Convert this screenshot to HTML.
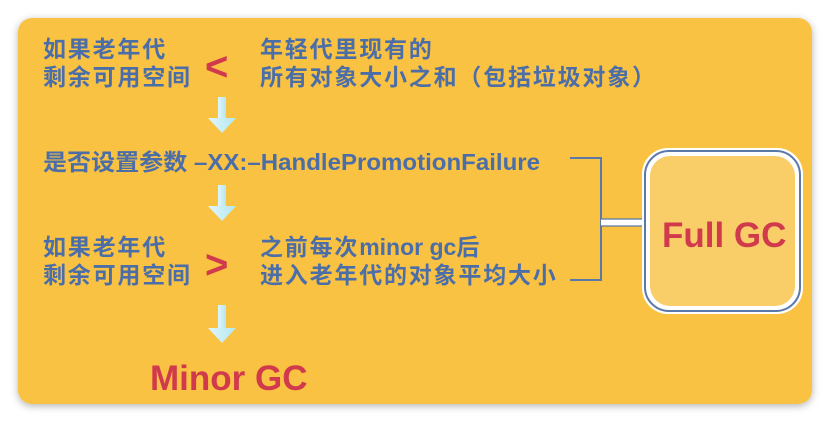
<!DOCTYPE html>
<html><head><meta charset="utf-8"><style>
html,body{margin:0;padding:0;background:#fff;width:830px;height:423px;overflow:hidden}
svg{display:block}
.t{font-family:"Liberation Sans","Noto Sans CJK SC",sans-serif;font-weight:bold;fill:#4C6EA8;font-size:23px;letter-spacing:1.8px}
.r{font-family:"Liberation Sans",sans-serif;font-weight:bold;fill:#D03A4C}
</style></head><body>
<svg width="830" height="423" viewBox="0 0 830 423">
<defs>
<filter id="sh" x="-5%" y="-5%" width="110%" height="115%"><feDropShadow dx="0" dy="2" stdDeviation="4" flood-color="#000" flood-opacity="0.3"/></filter>
<linearGradient id="ag" x1="0" x2="1"><stop offset="0" stop-color="#dff6fb"/><stop offset="1" stop-color="#b5e6f0"/></linearGradient>
</defs>
<rect x="18" y="18" width="794" height="386" rx="14" fill="#F9C242" filter="url(#sh)"/>
<text class="t" x="43" y="57">如果老年代</text>
<text class="t" x="43" y="85">剩余可用空间</text>
<text class="r" x="205" y="80" font-size="40">&lt;</text>
<text class="t" x="260" y="57">年轻代里现有的</text>
<text class="t" x="260" y="85">所有对象大小之和（包括垃圾对象）</text>
<g fill="url(#ag)"><rect x="218" y="97" width="8" height="22"/><polygon points="208,118 236,118 222,133"/></g>
<text class="t" x="43" y="170" textLength="497" lengthAdjust="spacingAndGlyphs" style="letter-spacing:0">是否设置参数 –XX:–HandlePromotionFailure</text>
<g fill="url(#ag)"><rect x="218" y="185" width="8" height="22"/><polygon points="208,206 236,206 222,221"/></g>
<text class="t" x="43" y="255">如果老年代</text>
<text class="t" x="43" y="283">剩余可用空间</text>
<text class="r" x="205" y="278" font-size="40">&gt;</text>
<text class="t" x="260" y="255">之前每次<tspan style="letter-spacing:0">minor gc</tspan>后</text>
<text class="t" x="260" y="283">进入老年代的对象平均大小</text>
<g fill="url(#ag)"><rect x="218" y="305" width="8" height="24"/><polygon points="208,328 236,328 222,343"/></g>
<text class="r" x="150" y="390" font-size="35">Minor GC</text>
<polyline points="570,158 601,158 601,280 570,280" fill="none" stroke="#5A78A8" stroke-width="2"/>
<rect x="601" y="219" width="45" height="7" fill="#fff"/>
<line x1="601" y1="219" x2="646" y2="219" stroke="#5A78A8" stroke-width="1.2"/>
<line x1="601" y1="226" x2="646" y2="226" stroke="#5A78A8" stroke-width="1.2"/>
<rect x="642" y="148" width="161" height="166" rx="26" fill="#fff"/>
<rect x="645" y="151" width="155" height="160" rx="24" fill="none" stroke="#5A78A8" stroke-width="2"/>
<rect x="650" y="156" width="145" height="150" rx="20" fill="#F9CE68"/>
<text class="r" x="662" y="247" font-size="35">Full GC</text>
</svg>
</body></html>
